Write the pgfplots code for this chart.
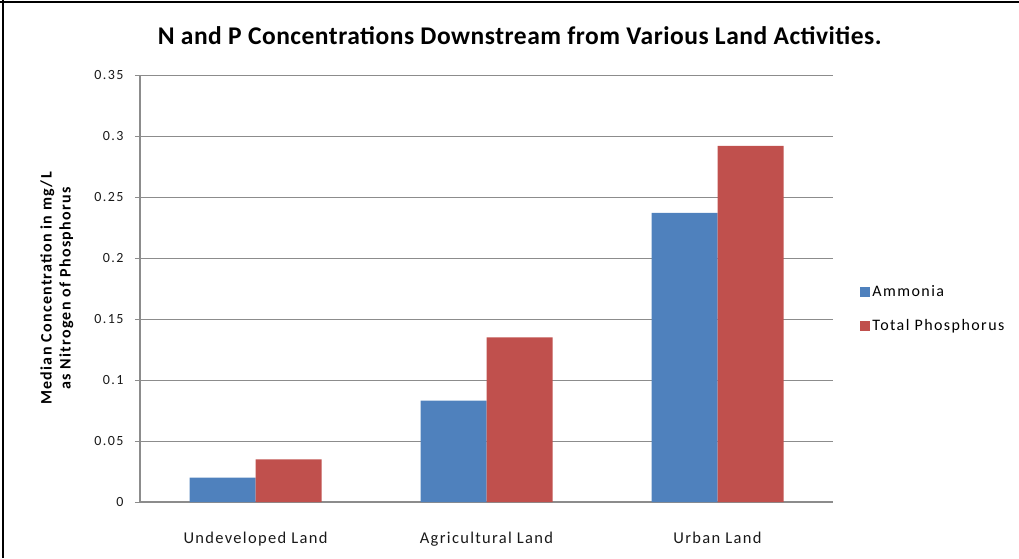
\documentclass[border=0pt]{standalone}
\usepackage{pgfplots}
\pgfplotsset{compat=1.18}
\usepackage{fontspec}
\setmainfont{Carlito}
\newfontfamily\titlefont[LetterSpace=2]{Carlito}
\newfontfamily\xtfont[LetterSpace=8]{Carlito}
\newfontfamily\ytfont[LetterSpace=10]{Carlito}
\newfontfamily\legfont[LetterSpace=9]{Carlito}
\newfontfamily\ylfont[LetterSpace=8]{Carlito}
\definecolor{amm}{HTML}{4F81BD}
\definecolor{tp}{HTML}{C0504D}
\definecolor{gridc}{HTML}{8C8C8C}
\begin{document}
\begin{tikzpicture}[x=1pt,y=1pt]
\useasboundingbox (0,0) rectangle (1019,558);
\draw[black, line width=1.2pt] (0,556) -- (1019,556);
\draw[black, line width=1.2pt] (3,0) -- (3,558);
\begin{axis}[
  at={(140pt,56pt)}, anchor=south west,
  scale only axis, width=693pt, height=427pt,
  ymin=0, ymax=0.35, xmin=-0.5, xmax=2.5,
  ybar=0pt, bar width=66pt,
  xtick={0,1,2},
  xticklabels={Undeveloped Land,Agricultural Land,Urban Land},
  xtick style={draw=none},
  ytick={0,0.05,0.1,0.15,0.2,0.25,0.3,0.35},
  yticklabels={0,0.05,0.1,0.15,0.2,0.25,0.3,0.35},
  ytick style={draw=gridc, line width=0.8pt},
  tick align=outside, major tick length=5pt,
  ymajorgrids, grid style={gridc, line width=0.8pt},
  axis x line*=bottom, axis y line*=left,
  axis line style={gridc, line width=1.2pt, -},
  tick label style={text=black!90},
  xticklabel style={font=\xtfont\fontsize{16.5}{19}\selectfont, anchor=base, yshift=-36pt},
  yticklabel style={font=\ytfont\fontsize{14}{16}\selectfont, anchor=east, xshift=-8pt},
  ylabel={Median Concentration in mg/L\\as Nitrogen of Phosphorus},
  ylabel style={font=\ylfont\bfseries\fontsize{16}{19}\selectfont, align=center,
    at={(axis description cs:-0.12,0.5)}, anchor=center},
  title={N and P Concentrations Downstream from Various Land Activities.},
  title style={font=\titlefont\bfseries\fontsize{25.5}{28}\selectfont,
    at={(axis description cs:0.548,1.078)}, anchor=center},
  legend style={draw=none, fill=none, at={(axis description cs:1.035,0.452)},
    anchor=west, font=\legfont\fontsize{16}{18}\selectfont, row sep=17pt,
    legend cell align=left},
  legend image code/.code={\fill[#1] (0pt,-5pt) rectangle (10pt,5pt);},
]
\addplot[fill=amm, draw=none] coordinates {(0,0.02) (1,0.083) (2,0.237)};
\addplot[fill=tp, draw=none] coordinates {(0,0.035) (1,0.135) (2,0.292)};
\legend{Ammonia, Total Phosphorus}
\end{axis}
\end{tikzpicture}
\end{document}
